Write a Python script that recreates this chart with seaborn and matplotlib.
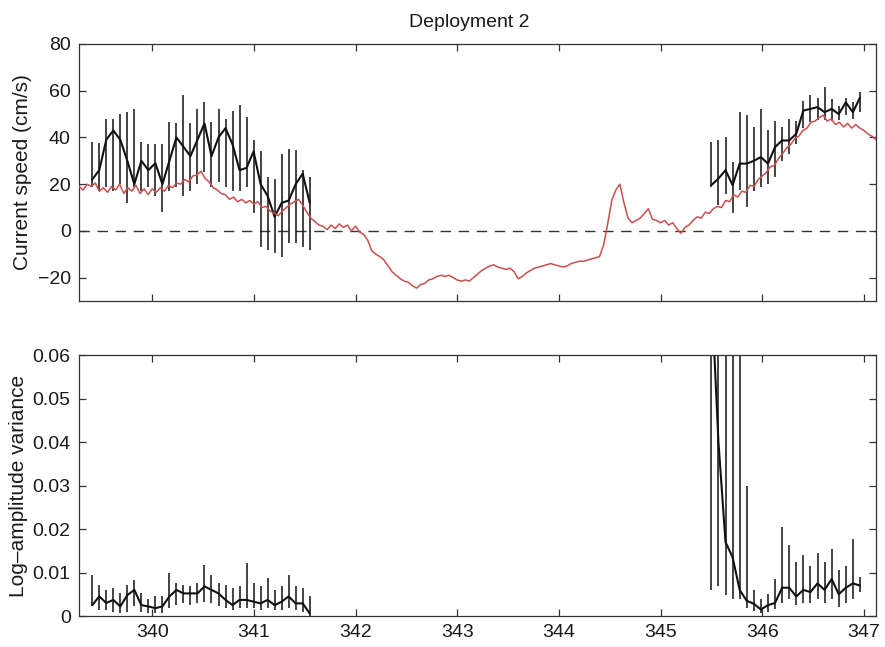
import numpy as np
import pandas as pd
import matplotlib
matplotlib.use("Agg")
import matplotlib.pyplot as plt
from matplotlib.ticker import FixedLocator, FuncFormatter
import seaborn as sns

# ---- data -------------------------------------------------------------
# Modelled current (red), uniform time grid in year-day
model_t0, model_dt = 339.28, 0.04
model_speed = [
    19.0, 17.5, 20.0, 19.0, 20.5, 17.0, 18.5, 16.5, 19.0, 17.5,
    20.0, 16.0, 18.5, 17.0, 19.5, 16.0, 18.0, 15.5, 18.0, 16.5,
    18.5, 17.0, 19.5, 18.5, 20.5, 20.0, 22.0, 21.0, 23.5, 24.0,
    25.5, 22.5, 21.0, 18.5, 17.5, 16.0, 15.5, 13.5, 14.5, 12.5,
    13.5, 12.0, 13.0, 11.5, 12.5, 10.0, 10.5, 8.5, 7.5, 6.5,
    8.5, 10.0, 11.5, 12.5, 13.5, 11.0, 8.0, 5.5, 4.0, 2.5,
    2.0, 0.5, 2.5, 1.0, 3.0, 1.5, 2.5, 0.0, 2.0, -0.5,
    -1.5, -4.0, -8.5, -10.0, -11.0, -12.5, -15.0, -17.5, -19.0, -20.5,
    -21.5, -22.0, -23.5, -24.5, -23.0, -22.5, -21.0, -20.5, -19.5, -19.0,
    -19.5, -19.0, -20.0, -21.0, -21.5, -21.0, -21.5, -20.0, -18.5, -17.0,
    -16.0, -15.0, -14.5, -15.5, -16.0, -16.5, -16.0, -17.5, -20.5, -19.5,
    -18.0, -17.0, -16.0, -15.5, -15.0, -14.5, -14.0, -14.5, -15.0, -15.5,
    -15.0, -14.0, -13.5, -13.0, -13.0, -12.5, -12.0, -11.5, -11.0, -6.0,
    3.0, 13.0, 17.5, 20.0, 12.0, 5.5, 3.5, 4.5, 5.5, 7.5,
    9.5, 5.0, 4.5, 3.5, 4.5, 2.5, 3.5, 1.0, -1.0, 1.5,
    2.5, 4.5, 6.0, 5.5, 8.0, 7.5, 9.5, 10.5, 10.0, 13.0,
    12.5, 15.5, 14.5, 17.0, 16.5, 19.5, 19.0, 22.0, 23.5, 25.0,
    27.5, 28.0, 31.0, 33.0, 35.5, 37.0, 39.5, 40.5, 43.0, 44.0,
    46.5, 47.0, 48.5, 49.5, 47.0, 48.0, 45.5, 46.5, 44.5, 46.0,
    44.0, 45.5, 44.0, 43.0, 41.5, 40.5, 39.0,
]

# Scintillation-derived speed, first record (black)
left_t0, left_dt = 339.41, 0.069
left_speed = [22, 26, 39, 43, 39, 30, 20, 30, 26, 29, 20, 30, 40, 36, 32, 39,
              46, 32, 40, 44, 37, 26, 27, 34, 20, 15, 6, 12, 13, 20, 24.5, 12]
left_speed_hi = [38, 37.6, 48, 48, 50, 51, 52, 38, 37, 37, 37, 46.5, 46, 58, 46, 52,
                 55, 46.5, 52, 48, 51.5, 54, 48.6, 39, 34, 23, 22, 33, 35, 34.5, 26, 23]
left_speed_lo = [19, 17, 19, 17, 20, 12, 19, 17, 19, 15, 8, 17, 19, 15, 17, 20,
                 25, 19, 21, 19, 17, 17, 19, 7.5, -7, -8, -9.5, -11, -5, -5, -7, -8]

# Scintillation-derived speed, second record (black)
right_t0, right_dt = 345.50, 0.0696
right_speed = [19.6, 22.4, 26, 19.6, 28.8, 28.8, 30, 31.6, 28.8, 35.9, 38.7,
               38.7, 41.6, 51.5, 52.2, 53, 50.8, 52.2, 50, 55, 50.8, 57]
right_speed_hi = [38, 38.7, 40, 29.5, 50.8, 49.4, 44.4, 52.2, 43, 47, 44.4,
                  48, 47, 55.7, 58, 57, 61.4, 56.5, 53.6, 57, 55, 59.3]
right_speed_lo = [18.9, 11, 16, 7.5, 17.4, 10.4, 17, 19, 20, 23, 30,
                  33, 37, 44, 46.5, 47.6, 47.6, 47, 47.6, 49.5, 48, 50.8]

# Log-amplitude variance, first record
left_var = [0.0025, 0.0045, 0.0030, 0.0037, 0.0022, 0.0048, 0.0060, 0.0025,
            0.0022, 0.0018, 0.0022, 0.0045, 0.0060, 0.0052, 0.0052, 0.0052,
            0.0068, 0.0060, 0.0052, 0.0037, 0.0025, 0.0037, 0.0037, 0.0033,
            0.0029, 0.0037, 0.0025, 0.0033, 0.0045, 0.0029, 0.0029, 0.0006]
left_var_hi = [0.0095, 0.0072, 0.0060, 0.0064, 0.0052, 0.0072, 0.0083, 0.0052,
               0.0040, 0.0045, 0.0045, 0.0098, 0.0075, 0.0072, 0.0068, 0.0075,
               0.0118, 0.0095, 0.0075, 0.0072, 0.0064, 0.0068, 0.0122, 0.0075,
               0.0068, 0.0087, 0.0060, 0.0068, 0.0095, 0.0068, 0.0064, 0.0045]
left_var_lo = [0.0022, 0.0014, 0.0014, 0.0010, 0.0006, 0.0010, 0.0022, 0.0010,
               0.0006, 0.0006, 0.0008, 0.0018, 0.0025, 0.0029, 0.0025, 0.0029,
               0.0033, 0.0029, 0.0022, 0.0018, 0.0014, 0.0018, 0.0018, 0.0018,
               0.0014, 0.0018, 0.0014, 0.0014, 0.0018, 0.0014, 0.0010, 0.0000]

# Log-amplitude variance, second record
right_var = [0.075, 0.040, 0.017, 0.0135, 0.006, 0.0035, 0.0028, 0.0015, 0.0025,
             0.0030, 0.0065, 0.0065, 0.0045, 0.0060, 0.0055, 0.0075, 0.0060,
             0.0085, 0.0050, 0.0065, 0.0075, 0.0070]
right_var_hi = [0.14, 0.12, 0.10, 0.09, 0.08, 0.030, 0.006, 0.004, 0.005,
                0.0085, 0.0205, 0.0163, 0.0125, 0.0140, 0.0115, 0.0145, 0.0125,
                0.0155, 0.0105, 0.0115, 0.0178, 0.0090]
right_var_lo = [0.006, 0.007, 0.0048, 0.004, 0.004, 0.0018, 0.0012, 0.0008, 0.0010,
                0.0015, 0.0030, 0.0040, 0.0025, 0.0030, 0.0030, 0.0040, 0.0030,
                0.0040, 0.0020, 0.0030, 0.0040, 0.0055]

speed_ticks = [-20, 0, 20, 40, 60, 80]
var_ticks = [0, 0.01, 0.02, 0.03, 0.04, 0.05, 0.06]
day_ticks = [340, 341, 342, 343, 344, 345, 346, 347]

# ---- frames -----------------------------------------------------------
def grid(t0, dt, n):
    return t0 + dt * np.arange(n)

model = pd.DataFrame({"day": grid(model_t0, model_dt, len(model_speed)),
                      "speed": model_speed})
left = pd.DataFrame({"day": grid(left_t0, left_dt, len(left_speed)),
                     "speed": left_speed, "speed_hi": left_speed_hi,
                     "speed_lo": left_speed_lo, "var": left_var,
                     "var_hi": left_var_hi, "var_lo": left_var_lo})
right = pd.DataFrame({"day": grid(right_t0, right_dt, len(right_speed)),
                      "speed": right_speed, "speed_hi": right_speed_hi,
                      "speed_lo": right_speed_lo, "var": right_var,
                      "var_hi": right_var_hi, "var_lo": right_var_lo})

# ---- style ------------------------------------------------------------
sns.set_style("ticks")
plt.rcParams["font.family"] = ["Liberation Sans", "DejaVu Sans"]
plt.rcParams["axes.edgecolor"] = "#333333"
plt.rcParams["xtick.color"] = "#333333"
plt.rcParams["ytick.color"] = "#333333"
plt.rcParams["xtick.labelcolor"] = "#1a1a1a"
plt.rcParams["ytick.labelcolor"] = "#1a1a1a"
plt.rcParams["text.color"] = "#1a1a1a"
plt.rcParams["axes.labelcolor"] = "#1a1a1a"

fig = plt.figure(figsize=(8.85, 6.47), dpi=100)
ax1 = fig.add_axes([0.0893, 0.5348, 0.9006, 0.3972])
ax2 = fig.add_axes([0.0893, 0.0479, 0.9006, 0.4034])

red = "#c9504e"
blk = "#111111"

# top: current speed
ax1.axhline(0, color="#333333", lw=1.0, dashes=(7.5, 5.5), zorder=1)
for d in (left, right):
    ax1.vlines(d["day"], d["speed_lo"], d["speed_hi"], color=blk, lw=1.1, zorder=2)
    sns.lineplot(data=d, x="day", y="speed", ax=ax1, color=blk, lw=1.5,
                 estimator=None, sort=False, zorder=3)
sns.lineplot(data=model, x="day", y="speed", ax=ax1, color=red, lw=1.1,
             estimator=None, sort=False, zorder=4)

# bottom: log-amplitude variance
for d in (left, right):
    ax2.vlines(d["day"], d["var_lo"], d["var_hi"], color=blk, lw=1.1, zorder=2)
    sns.lineplot(data=d, x="day", y="var", ax=ax2, color=blk, lw=1.5,
                 estimator=None, sort=False, zorder=3)

for ax in (ax1, ax2):
    ax.set_xlim(339.28, 347.12)
    ax.xaxis.set_major_locator(FixedLocator(day_ticks))
    ax.tick_params(direction="in", top=True, right=True, length=5, width=0.9,
                   labelsize=14, pad=6)
    for s in ax.spines.values():
        s.set_linewidth(0.9)
    ax.set_xlabel("")

ax1.set_ylim(-30, 80)
ax1.yaxis.set_major_locator(FixedLocator(speed_ticks))
ax1.set_xticklabels([])
ax1.set_ylabel("Current speed (cm/s)", fontsize=15, labelpad=4)
ax1.set_title("Deployment 2", fontsize=14, pad=12, x=0.49)

ax2.set_ylim(0, 0.06)
ax2.yaxis.set_major_locator(FixedLocator(var_ticks))
ax2.yaxis.set_major_formatter(FuncFormatter(lambda v, p: "0" if v == 0 else f"{v:.2f}"))
ax2.set_xticklabels([str(t) for t in day_ticks])
ax2.set_ylabel("Log\u2013amplitude variance", fontsize=15, labelpad=3)

fig.savefig("out.png", dpi=100)
